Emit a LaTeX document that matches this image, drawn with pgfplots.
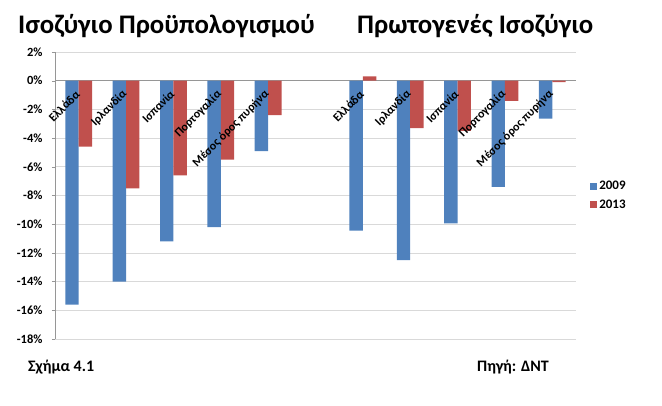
\documentclass[border=0pt]{standalone}
\usepackage{pgfplots}
\pgfplotsset{compat=1.18}
\usepackage{fontspec}
\setmainfont{Carlito}
\definecolor{xblue}{HTML}{4F81BD}
\definecolor{xred}{HTML}{C0504D}
\definecolor{xgrid}{HTML}{D9D9D9}
\definecolor{xaxis}{HTML}{969696}
\begin{document}
\begin{tikzpicture}[x=1pt,y=1pt]
\useasboundingbox (0,0) rectangle (662,406);
\node[anchor=base west,inner sep=0pt,font=\fontsize{26.8}{30}\selectfont\bfseries] at (18,372) {Ισοζύγιο Προϋπολογισμού};
\node[anchor=base west,inner sep=0pt,font=\fontsize{26.8}{30}\selectfont\bfseries] at (357,372) {Πρωτογενές Ισοζύγιο};
\node[anchor=base west,inner sep=0pt,font=\fontsize{16}{18}\selectfont\bfseries] at (28,34) {Σχήμα 4.1};
\node[anchor=base west,inner sep=0pt,font=\fontsize{16}{18}\selectfont\bfseries] at (477,34) {Πηγή: ΔΝΤ};
\begin{axis}[
  at={(55pt,67pt)}, anchor=south west,
  width=521pt, height=287pt, scale only axis,
  xmin=-0.5, xmax=10.5, ymin=-18, ymax=2,
  ybar=0pt, bar width=13.4pt,
  axis y line*=left, axis x line*=middle,
  axis line style={xaxis, line width=0.6pt},
  ymajorgrids, grid style={xgrid, line width=0.6pt},
  ytick={-18,-16,...,2},
  yticklabels={-18\%,-16\%,-14\%,-12\%,-10\%,-8\%,-6\%,-4\%,-2\%,0\%,2\%},
  ytick style={xaxis}, major tick length=3pt,
  xtick=\empty,
  yticklabel style={font=\fontsize{12.5}{14}\selectfont\bfseries, /pgf/number format/assume math mode=true, xshift=-6pt},
  tick align=outside,
  clip=false,
  legend style={at={(1.027,0.5)}, anchor=west, draw=none, fill=none,
    font=\fontsize{13}{15}\selectfont\bfseries, row sep=4pt, inner sep=0pt,
    /tikz/every even column/.append style={column sep=2pt}},
  legend cell align=left,
  legend image code/.code={\fill[#1] (0pt,-3.5pt) rectangle (7pt,3.5pt);},
]
\addplot[draw=none, fill=xblue] coordinates {(0,-15.6) (1,-14.0) (2,-11.2) (3,-10.2) (4,-4.9) (6,-10.45) (7,-12.5) (8,-9.95) (9,-7.4) (10,-2.65)};
\addplot[draw=none, fill=xred] coordinates {(0,-4.6) (1,-7.5) (2,-6.6) (3,-5.5) (4,-2.4) (6,0.3) (7,-3.3) (8,-3.5) (9,-1.4) (10,-0.1)};
\legend{2009,2013}
\addplot[draw=none, fill=none, mark=none, sharp plot, forget plot,
  nodes near coords, point meta=explicit symbolic,
  every node near coord/.append style={font=\fontsize{12}{14}\selectfont\bfseries, xshift=-7pt, yshift=-11pt, rotate=45, anchor=east, inner sep=1pt, text=black}]
  coordinates {(0,0) [Ελλάδα] (1,0) [Ιρλανδία] (2,0) [Ισπανία] (3,0) [Πορτογαλία] (4,0) [Μέσος όρος πυρήνα]
    (6,0) [Ελλάδα] (7,0) [Ιρλανδία] (8,0) [Ισπανία] (9,0) [Πορτογαλία] (10,0) [Μέσος όρος πυρήνα]};
\end{axis}
\end{tikzpicture}
\end{document}
